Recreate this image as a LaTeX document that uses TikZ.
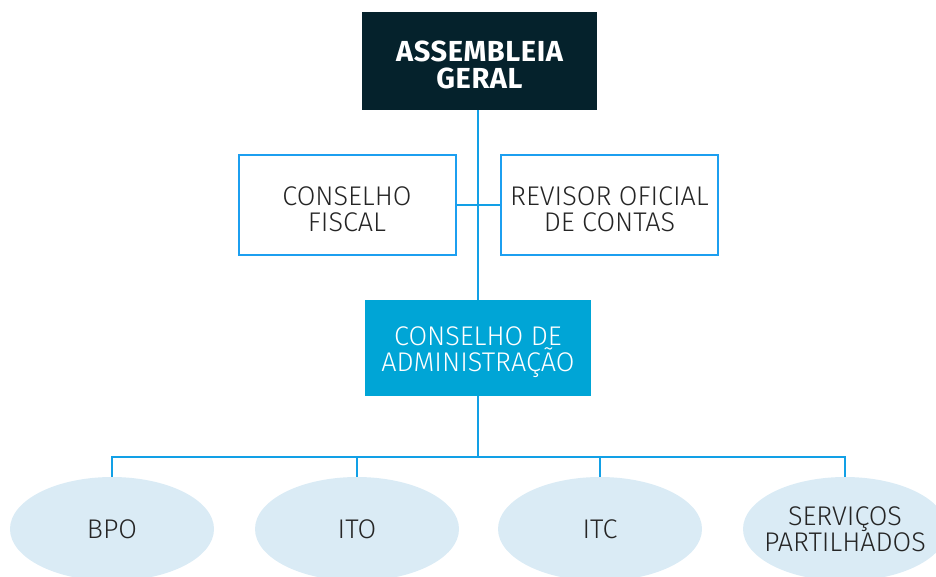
\documentclass[tikz,border=0pt]{standalone}
\usepackage{fontspec}
\setmainfont{Fira Sans}[UprightFont={* Light}, BoldFont={* Bold}]
\usetikzlibrary{shapes.geometric}
\definecolor{darkbox}{HTML}{05222C}
\definecolor{bordblue}{HTML}{1C9FF0}
\definecolor{cafill}{HTML}{00A5D6}
\definecolor{linkblue}{HTML}{12A0E6}
\definecolor{ellfill}{HTML}{DAEBF5}
\definecolor{txt}{HTML}{252525}
\newcommand{\dnstrut}{\rule{0pt}{28pt}}
\tikzset{
  topbox/.style={fill=darkbox, text=white, minimum width=235pt, minimum height=98pt, font=\fontsize{29}{27}\selectfont\bfseries\addfontfeatures{LetterSpace=2}, align=center, inner sep=0pt},
  sidebox/.style={draw=bordblue, line width=2pt, fill=white, text=txt, minimum width=217pt, minimum height=100pt, font=\fontsize{27}{26}\selectfont, align=center, inner sep=0pt},
  cabox/.style={fill=cafill, text=white, minimum width=226pt, minimum height=96pt, font=\fontsize{27}{26}\selectfont, align=center, inner sep=0pt},
  unit/.style={ellipse, fill=ellfill, text=txt, minimum width=204pt, minimum height=104pt, font=\fontsize{27}{26}\selectfont, align=center, inner sep=0pt},
  link/.style={draw=linkblue, line width=2pt}
}
\begin{document}
\begin{tikzpicture}[x=1pt,y=-1pt]
\useasboundingbox (0,0) rectangle (936,576);
\node[topbox] (ag) at (479.5,61) {\dnstrut ASSEMBLEIA\\GERAL};
\node[sidebox] (cf) at (347,204.5) {\dnstrut CONSELHO\\FISCAL};
\node[sidebox] (roc) at (609.5,204.5) {\dnstrut REVISOR OFICIAL\\DE CONTAS};
\node[cabox] (ca) at (478,348) {\dnstrut CONSELHO DE\\ADMINISTRAÇÃO};
\node[unit] (bpo) at (112,529) {BPO};
\node[unit] (ito) at (357,529) {ITO};
\node[unit] (itc) at (600,529) {ITC};
\node[unit, inner xsep=-20pt] (sp) at (845,529) {SERVIÇOS\\PARTILHADOS};
\coordinate (mid) at (478,205);
\coordinate (bus) at (478,457);
\draw[link] (ag.south -| mid) -- (ca.north -| mid);
\draw[link] (cf.east) -- (roc.west);
\draw[link] (ca.south) -- (bus);
\draw[link] (bpo.north) |- (bus);
\draw[link] (sp.north) |- (bus);
\draw[link] (ito.north) -- (ito.north |- bus);
\draw[link] (itc.north) -- (itc.north |- bus);
\end{tikzpicture}
\end{document}
